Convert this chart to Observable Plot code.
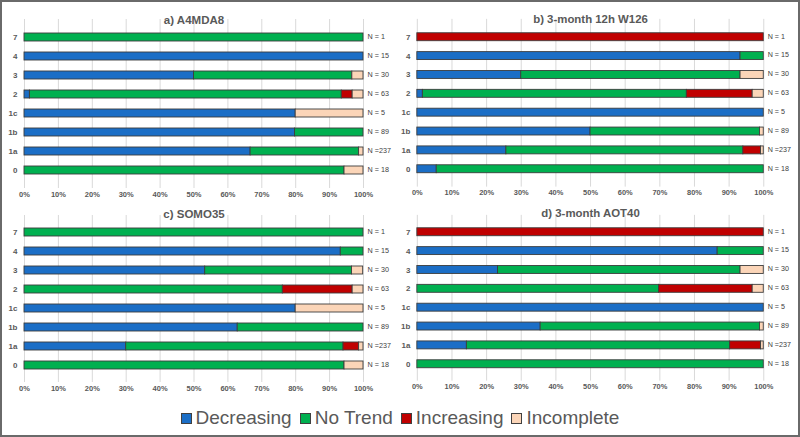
<!DOCTYPE html>
<html>
<head>
<meta charset="utf-8">
<script src="https://cdn.jsdelivr.net/npm/d3@7"></script>
<script src="https://cdn.jsdelivr.net/npm/@observablehq/plot@0.6"></script>
<style>
  body { margin: 0; background: white; }
  #wrap { position: relative; width: 800px; height: 437px; background: white; overflow: hidden; font-family: "Liberation Sans", Arial, sans-serif; }
  #frame { position: absolute; left: 0; top: 0; width: 800px; height: 437px; box-sizing: border-box; border: 2px solid #6a6a6a; pointer-events: none; }
  .panel { position: absolute; }
  #legend { position: absolute; left: 0; width: 800px; top: 407px; display: flex; justify-content: center; align-items: center; color: #595959; font-size: 19px; }
  .item { display: flex; align-items: center; margin: 0 4px; }
  .sw { width: 9px; height: 9px; border: 1px solid #404040; margin-right: 4px; }
</style>
</head>
<body>
<div id="wrap">
  <div id="pa" class="panel" style="left:0px;top:0px"></div>
  <div id="pb" class="panel" style="left:393px;top:0px"></div>
  <div id="pc" class="panel" style="left:0px;top:197px"></div>
  <div id="pd" class="panel" style="left:393px;top:197px"></div>
  <div id="legend"></div>
  <div id="frame"></div>
</div>
<script>
const categories = ["7", "4", "3", "2", "1c", "1b", "1a", "0"];
const nLabels = ["N = 1", "N = 15", "N = 30", "N = 63", "N = 5", "N = 89", "N =237", "N = 18"];
const trends = ["Decreasing", "No Trend", "Increasing", "Incomplete"];
const colors = ["#1B6EC6", "#00B050", "#C00000", "#FBD5B8"];
const xTicks = [0, 10, 20, 30, 40, 50, 60, 70, 80, 90, 100];

const titles = ["a) A4MDA8", "b) 3-month 12h W126", "c) SOMO35", "d) 3-month AOT40"];

// Percent of sites per category (order of categories)
const aDecreasing = [0, 100, 50, 1.6, 80, 79.8, 66.7, 0];
const aNoTrend    = [100, 0, 46.7, 92.0, 0, 20.2, 32.0, 94.4];
const aIncreasing = [0, 0, 0, 3.2, 0, 0, 0, 0];
const aIncomplete = [0, 0, 3.3, 3.2, 20, 0, 1.3, 5.6];

const bDecreasing = [0, 93.3, 30, 1.6, 100, 50, 25.7, 5.6];
const bNoTrend    = [0, 6.7, 63.3, 76.2, 0, 48.9, 68.4, 94.4];
const bIncreasing = [100, 0, 0, 19.0, 0, 0, 5.1, 0];
const bIncomplete = [0, 0, 6.7, 3.2, 0, 1.1, 0.8, 0];

const cDecreasing = [0, 93.3, 53.3, 0, 80, 62.9, 30.0, 0];
const cNoTrend    = [100, 6.7, 43.3, 76.2, 0, 37.1, 64.1, 94.4];
const cIncreasing = [0, 0, 0, 20.6, 0, 0, 4.6, 0];
const cIncomplete = [0, 0, 3.3, 3.2, 20, 0, 1.3, 5.6];

const dDecreasing = [0, 86.7, 23.3, 0, 100, 35.6, 14.3, 0];
const dNoTrend    = [0, 13.3, 70, 69.8, 0, 63.3, 76.0, 100];
const dIncreasing = [100, 0, 0, 27.0, 0, 0, 8.9, 0];
const dIncomplete = [0, 0, 6.7, 3.2, 0, 1.1, 0.8, 0];

function rows(series) {
  const out = [];
  categories.forEach((c, i) => {
    series.forEach((s, k) => {
      if (s[i] > 0) out.push({cat: c, trend: trends[k], value: s[i]});
    });
  });
  return out;
}

function panel(title, series, opts) {
  const data = rows(series);
  const nData = categories.map((c, i) => ({cat: c, n: nLabels[i]}));
  return Plot.plot({
    width: opts.width,
    height: opts.height,
    marginLeft: 24,
    marginRight: 37,
    marginTop: opts.marginTop,
    marginBottom: 12,
    style: {fontFamily: "'Liberation Sans', Arial, sans-serif", fontSize: "8px", color: "#595959", background: "transparent", overflow: "visible"},
    x: {domain: [0, 100], ticks: xTicks, tickFormat: d => d + "%", tickSize: 0, tickPadding: 3, label: null},
    y: {domain: categories, padding: 0.6, tickSize: 0, tickPadding: 7, label: null},
    color: {domain: trends, range: colors},
    marks: [
      Plot.gridX(xTicks, {stroke: "#d9d9d9", strokeOpacity: 1}),
      Plot.barX(data, Plot.stackX({x: "value", y: "cat", fill: "trend", order: trends, stroke: "#3c3c3c", strokeWidth: 0.9})),
      Plot.axisX({ticks: xTicks, tickFormat: d => d + "%", tickSize: 0, tickPadding: 3, fontWeight: "bold", fontSize: 7.5, label: null}),
      Plot.axisY({tickSize: 0, tickPadding: 7, fontWeight: "bold", fontSize: 8, label: null}),
      Plot.text(nData, {x: () => 100, y: "cat", text: "n", textAnchor: "start", dx: 4, dy: -1, fontSize: 7.2, fill: "#404040"}),
      Plot.text([title], {frameAnchor: "top", dy: opts.titleDy, fontWeight: "bold", fontSize: 11.5, fill: "#595959"})
    ]
  });
}

document.getElementById("pa").append(panel(titles[0], [aDecreasing, aNoTrend, aIncreasing, aIncomplete], {width: 400, height: 200, marginTop: 19, titleDy: -4}));
document.getElementById("pb").append(panel(titles[1], [bDecreasing, bNoTrend, bIncreasing, bIncomplete], {width: 410, height: 200, marginTop: 19, titleDy: -4}));
document.getElementById("pc").append(panel(titles[2], [cDecreasing, cNoTrend, cIncreasing, cIncomplete], {width: 400, height: 197, marginTop: 18, titleDy: -6}));
document.getElementById("pd").append(panel(titles[3], [dDecreasing, dNoTrend, dIncreasing, dIncomplete], {width: 410, height: 197, marginTop: 18, titleDy: -7}));

const legend = document.getElementById("legend");
trends.forEach((t, i) => {
  const item = document.createElement("div");
  item.className = "item";
  const sw = document.createElement("div");
  sw.className = "sw";
  sw.style.background = colors[i];
  const label = document.createElement("span");
  label.textContent = t;
  item.append(sw, label);
  legend.append(item);
});
</script>
</body>
</html>
